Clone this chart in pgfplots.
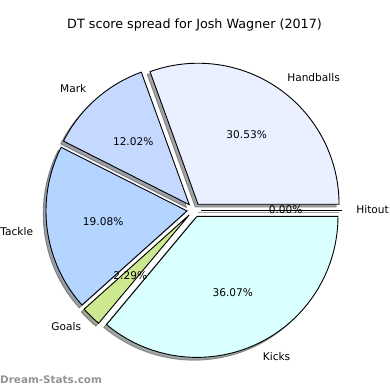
\documentclass[border=0pt]{standalone}
\usepackage{pgfplots}
\pgfplotsset{compat=1.18}
\usepackage{fontspec}
\setmainfont{DejaVu Sans}
\definecolor{cHand}{RGB}{234,240,255}
\definecolor{cMark}{RGB}{197,216,255}
\definecolor{cTack}{RGB}{180,213,255}
\definecolor{cGoal}{RGB}{205,233,143}
\definecolor{cKick}{RGB}{217,255,255}
\definecolor{cHit}{RGB}{220,220,255}
% #1 start (cumulative %), #2 end (cumulative %), #3 colour
\newcommand\shadowslice[3]{%
  \pgfmathsetmacro\ta{3.6*#1}%
  \pgfmathsetmacro\tb{3.6*#2}%
  \pgfmathsetmacro\tm{(\ta+\tb)/2}%
  \pgfmathsetmacro\ex{0.05*cos(\tm)-0.02}%
  \pgfmathsetmacro\ey{0.05*sin(\tm)-0.02}%
  \edef\doit{\noexpand\addplot[draw=#3!30!black, fill=#3!30!black, opacity=0.5, line width=0.9bp, domain=\ta:\tb, samples=90, variable=\noexpand\t] ({\ex+cos(\noexpand\t)},{\ey+sin(\noexpand\t)}) -- (axis cs:\ex,\ey) -- cycle;}%
  \doit
}
\newcommand\slice[3]{%
  \pgfmathsetmacro\ta{3.6*#1}%
  \pgfmathsetmacro\tb{3.6*#2}%
  \pgfmathsetmacro\tm{(\ta+\tb)/2}%
  \pgfmathsetmacro\ex{0.05*cos(\tm)}%
  \pgfmathsetmacro\ey{0.05*sin(\tm)}%
  \edef\doit{\noexpand\addplot[draw=black, fill=#3, line width=0.9bp, line join=miter, domain=\ta:\tb, samples=90, variable=\noexpand\t] ({\ex+cos(\noexpand\t)},{\ey+sin(\noexpand\t)}) -- (axis cs:\ex,\ey) -- cycle;}%
  \doit
}
% #1 start, #2 end, #3 label, #4 anchor, #5 percentage text
\newcommand\slicelabel[5]{%
  \pgfmathsetmacro\tm{3.6*(#1+#2)/2}%
  \pgfmathsetmacro\lx{1.15*cos(\tm)}%
  \pgfmathsetmacro\ly{1.15*sin(\tm)}%
  \pgfmathsetmacro\px{0.65*cos(\tm)}%
  \pgfmathsetmacro\py{0.65*sin(\tm)}%
  \edef\doit{\noexpand\node[anchor=#4, inner sep=0pt, font=\noexpand\lbl] at (axis cs:\lx,\ly) {#3};
    \noexpand\node[anchor=center, inner sep=0pt, font=\noexpand\lbl] at (axis cs:\px,\py) {#5};}%
  \doit
}
\newcommand\lbl{\fontsize{10.6bp}{12bp}\selectfont}
\begin{document}
\begin{tikzpicture}
\path[use as bounding box] (0,0) rectangle (390bp,390bp);
\fill[white] (0,0) rectangle (390bp,390bp);
\begin{axis}[at={(0,0)}, anchor=south west, scale only axis,
  width=390bp, height=390bp,
  xmin=-1.3759, xmax=1.3901, ymin=-1.2766, ymax=1.4894,
  hide axis, clip=false]
% data: Handballs 30.53, Mark 12.02, Tackle 19.08, Goals 2.29, Kicks 36.07, Hitout 0.00
% shadows
\shadowslice{0}{30.53}{cHand}
\shadowslice{30.53}{42.55}{cMark}
\shadowslice{42.55}{61.63}{cTack}
\shadowslice{61.63}{63.92}{cGoal}
\shadowslice{63.92}{100}{cKick}
\addplot[draw=cHit!30!black, opacity=0.5, line width=0.9bp] coordinates {(0.03,-0.02) (1.03,-0.02)};
% wedges
\slice{0}{30.53}{cHand}
\slice{30.53}{42.55}{cMark}
\slice{42.55}{61.63}{cTack}
\slice{61.63}{63.92}{cGoal}
\slice{63.92}{100}{cKick}
\addplot[draw=black, line width=0.9bp] coordinates {(0.05,0) (1.05,0)};
% labels
\slicelabel{0}{30.53}{Handballs}{west}{30.53\%}
\slicelabel{30.53}{42.55}{Mark}{east}{12.02\%}
\slicelabel{42.55}{61.63}{Tackle}{east}{19.08\%}
\slicelabel{61.63}{63.92}{Goals}{east}{2.29\%}
\slicelabel{63.92}{100}{Kicks}{west}{36.07\%}
\slicelabel{100}{100}{Hitout}{west}{0.00\%}
\node[anchor=center, inner sep=0pt, font=\fontsize{12.75bp}{14bp}\selectfont] at (axis cs:0.004,1.312) {DT score spread for Josh Wagner (2017)};
\node[anchor=west, inner sep=0pt, text=black!42, font=\bfseries\fontsize{10.4bp}{12bp}\selectfont] at (axis cs:-1.3759,-1.206) {Dream-Stats.com};
\end{axis}
\end{tikzpicture}
\end{document}
